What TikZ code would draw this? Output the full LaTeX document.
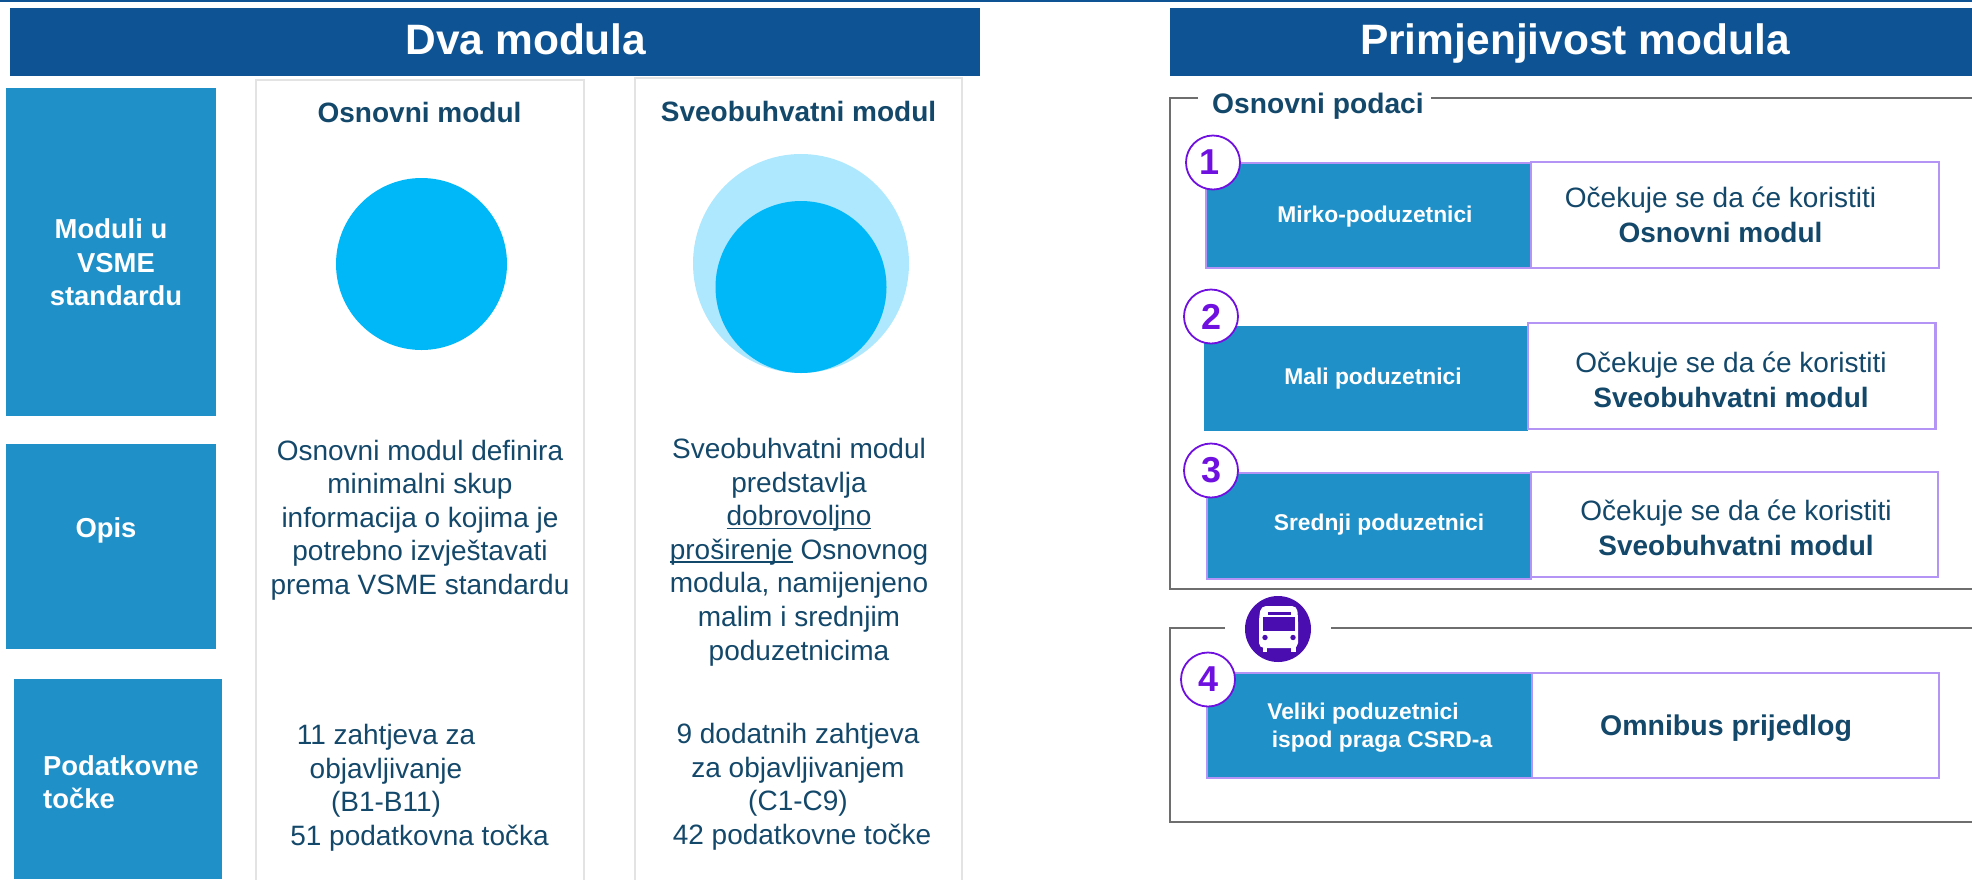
\documentclass[tikz,border=0pt]{standalone}
\usepackage{fontspec}
\setmainfont{Liberation Sans}
\definecolor{hdr}{HTML}{0E5494}
\definecolor{boxb}{HTML}{2090C8}
\definecolor{cyanc}{HTML}{00B8F8}
\definecolor{lightc}{HTML}{ADE8FF}
\definecolor{ink}{HTML}{14486A}
\definecolor{lilac}{HTML}{B494F5}
\definecolor{violet}{HTML}{7010E0}
\definecolor{busc}{HTML}{4A0DB0}
\definecolor{frameg}{HTML}{6E6E6E}
\definecolor{panelg}{HTML}{E3E3E3}
\newcommand{\fsz}[2]{\fontsize{#1}{#2}\selectfont}
\newsavebox\ulinebox
\newcommand{\ulin}[1]{\sbox\ulinebox{#1}\rlap{\rule[-3.6pt]{\wd\ulinebox}{1.6pt}}\usebox\ulinebox}
\tikzset{
  hdrbar/.style={text=white,font=\bfseries\fsz{42.5}{50},inner sep=0pt},
  sidelabel/.style={text=white,font=\bfseries\fsz{27.4}{33.5},align=center,inner sep=0pt},
  panelbox/.style={draw=panelg,line width=2pt},
  panelhead/.style={text=ink,font=\bfseries\fsz{28}{34},inner sep=0pt},
  body/.style={text=ink,font=\fsz{28}{33.6},align=center,inner sep=0pt},
  framel/.style={draw=frameg,line width=1.8pt},
  rowblue/.style={fill=boxb,draw=lilac,line width=2.4pt},
  rowwhite/.style={fill=white,draw=lilac,line width=2.4pt},
  rowlabel/.style={text=white,font=\bfseries\fsz{22.8}{29},align=center,inner sep=0pt},
  rowtext/.style={text=ink,font=\fsz{28}{35.5},align=center,inner sep=0pt},
  numc/.style={circle,draw=violet,line width=1.8pt,fill=white,minimum size=54pt,inner sep=0pt,text=violet,font=\bfseries\fsz{36}{40}},
}
\begin{document}
\begin{tikzpicture}[x=1pt,y=-1pt]
\useasboundingbox (0,0) rectangle (1972,879);
\fill[hdr] (0,0) rectangle (1972,1.6);
% headers
\fill[hdr] (10,7.5) rectangle (980,75.5);
\node[hdrbar] (h1) at (526,39) {Dva modula};
\fill[hdr] (1170,7.5) rectangle (1972,75.5);
\node[hdrbar] (h2) at (1575,44) {Primjenjivost modula};
% left side boxes
\fill[boxb] (6,88) rectangle (216,416);
\node[sidelabel] (s1) at (116,262.5) {\hspace*{-10pt}Moduli u\\VSME\\standardu};
\fill[boxb] (6,444) rectangle (216,649);
\node[sidelabel] (s2) at (106,530) {Opis};
\fill[boxb] (14,679) rectangle (222,879);
\node[sidelabel,align=left,anchor=west] (s3) at (43,782) {Podatkovne\\točke};
% panels
\draw[panelbox] (256,880) -- (256,80) -- (583.5,80) -- (583.5,880);
\draw[panelbox] (634.5,880) -- (634.5,78) -- (962,78) -- (962,880);
\node[panelhead] (p1) at (419.5,112) {Osnovni modul};
\node[panelhead] (p2) at (798.5,111) {Sveobuhvatni modul};
% circles
\fill[cyanc] (421.5,264) ellipse [x radius=85.5,y radius=86];
\fill[lightc] (801,263.5) ellipse [x radius=108,y radius=109.5];
\fill[cyanc] (801,287) ellipse [x radius=85.5,y radius=86];
% body
\node[body] (b1) at (420,520) {Osnovni modul definira\\minimalni skup\\informacija o kojima je\\potrebno izvještavati\\prema VSME standardu};
\node[body] (b2) at (799,552) {Sveobuhvatni modul\\predstavlja\\\ulin{dobrovoljno}\\\ulin{proširenje} Osnovnog\\modula, namijenjeno\\malim i srednjim\\poduzetnicima};
\node[body] (d1) at (386,771) {11 zahtjeva za\\objavljivanje\\(B1-B11)};
\node[body] (d1b) at (419.5,838) {51 podatkovna točka};
\node[body] (d2) at (798,770) {9 dodatnih zahtjeva\\za objavljivanjem\\(C1-C9)};
\node[body] (d2b) at (802,837) {42 podatkovne točke};
% frames
\draw[framel] (1198,97.7) -- (1170,97.7) -- (1170,589) -- (1972,589);
\draw[framel] (1431,97.7) -- (1972,97.7);
\draw[framel] (1225,628) -- (1170,628) -- (1170,822) -- (1972,822);
\draw[framel] (1331,628) -- (1972,628);
\node[text=ink,font=\bfseries\fsz{28.2}{34},inner sep=0pt,anchor=west] (osn) at (1212,106) {Osnovni podaci};
% rows
\draw[rowblue] (1206,163) rectangle (1531,268);
\draw[rowwhite] (1531,162) rectangle (1939,268);
\fill[boxb] (1204,326) rectangle (1528,431);
\draw[rowwhite] (1528,323) rectangle (1935.5,429);
\draw[rowblue] (1207,473) rectangle (1531,579);
\draw[rowwhite] (1531,472) rectangle (1938,577);
\draw[rowblue] (1207,673) rectangle (1532,778);
\draw[rowwhite] (1532,673) rectangle (1939,778);
\node[rowlabel] (r1) at (1375,216.5) {Mirko-poduzetnici};
\node[rowlabel] (r2) at (1373,378.5) {Mali poduzetnici};
\node[rowlabel] (r3) at (1379,524.5) {Srednji poduzetnici};
\node[rowlabel] (r4a) at (1363,714) {Veliki poduzetnici};
\node[rowlabel] (r4b) at (1382,742) {ispod praga CSRD-a};
\node[rowtext] (t1) at (1720.5,215) {Očekuje se da će koristiti\\\textbf{Osnovni modul}};
\node[rowtext] (t2) at (1731,380) {Očekuje se da će koristiti\\\textbf{Sveobuhvatni modul}};
\node[rowtext] (t3) at (1736,528) {Očekuje se da će koristiti\\\textbf{Sveobuhvatni modul}};
\node[rowtext,font=\bfseries\fsz{28.5}{36}] (t4) at (1726,728) {Omnibus prijedlog};
% numbers
\node[numc] (n1) at (1213,162.5) {\hspace*{-7pt}1};
\node[numc] (n2) at (1211,316.5) {2};
\node[numc] (n3) at (1211,470.5) {3};
\node[numc] (n4) at (1208,679.5) {4};
% bus icon
\fill[busc] (1278,629) circle [radius=33];
\fill[white,rounded corners=5pt] (1259,648) -- (1259,618) -- (1261,606) -- (1297,606) -- (1298,618) -- (1298,648) -- cycle;
\fill[busc] (1263,617) rectangle (1295,631);
\fill[busc] (1268,612) rectangle (1291,614.6);
\fill[busc] (1265,637.5) circle [radius=2.7];
\fill[busc] (1293,637.5) circle [radius=2.7];
\fill[white] (1262.5,646) rectangle (1267,652);
\fill[white] (1291,646) rectangle (1295.5,652);
\end{tikzpicture}
\end{document}
